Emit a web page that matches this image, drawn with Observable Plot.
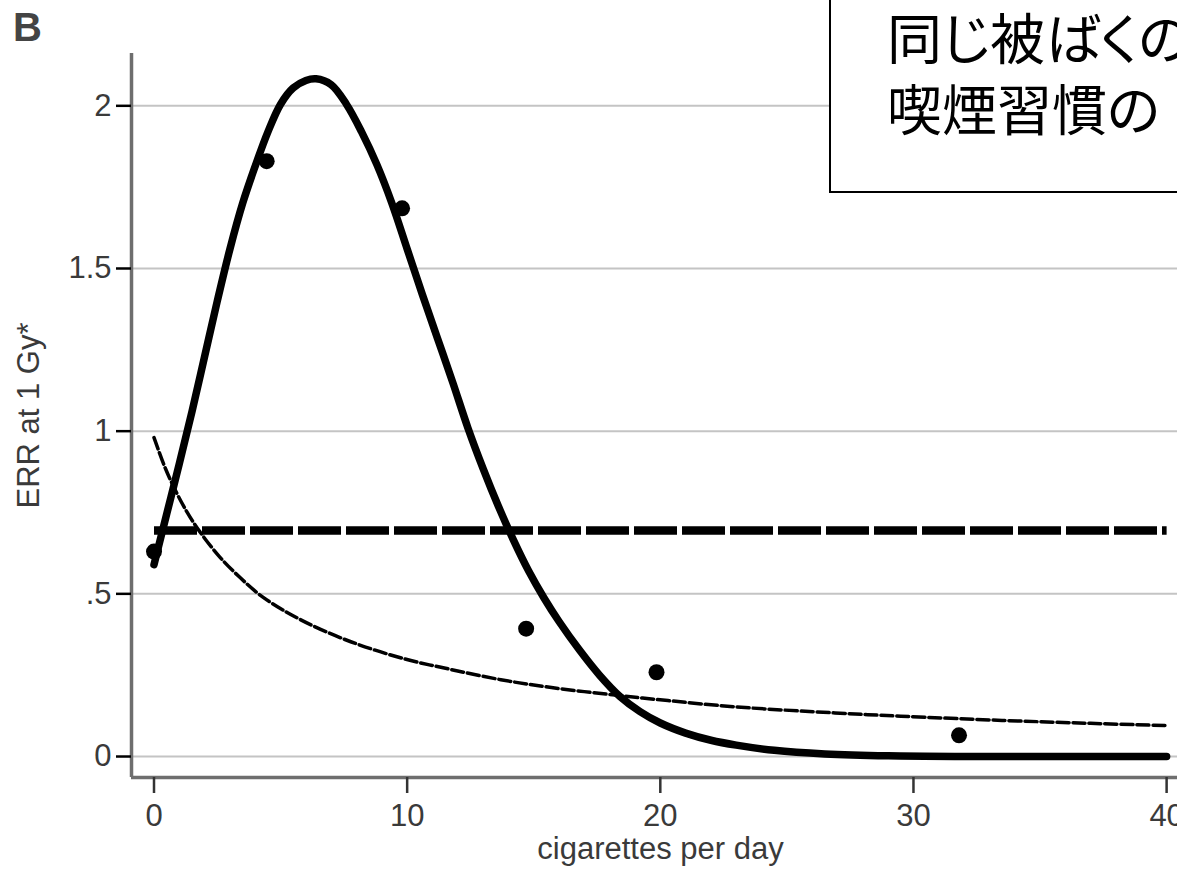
<!DOCTYPE html>
<html>
<head>
<meta charset="utf-8">
<script src="https://cdn.jsdelivr.net/npm/d3@7"></script>
<script src="https://cdn.jsdelivr.net/npm/@observablehq/plot@0.6"></script>
<style>
  html, body { margin: 0; padding: 0; overflow: hidden; background: #fff; }
  #wrap { position: relative; width: 1177px; height: 869px; overflow: hidden; }
  #note {
    position: absolute; left: 829px; top: -10px; width: 420px; height: 203px;
    box-sizing: border-box; border: 2px solid #000; background: #fff;
    padding: 8px 0 0 56px;
    font-family: "Noto Sans CJK JP", sans-serif; font-size: 55px; line-height: 71px;
    font-feature-settings: "palt"; white-space: nowrap; color: #000;
  }
</style>
</head>
<body>
<div id="wrap"></div>
<script>
// ---- data ----
const xTicks = [0, 10, 20, 30, 40];
const yTicks = [0, 0.5, 1, 1.5, 2];
const yTickLabels = ["0", ".5", "1", "1.5", "2"];

// observed points
const pointX = [0, 4.45, 9.8, 14.7, 19.85, 31.8];
const pointY = [0.63, 1.83, 1.685, 0.393, 0.259, 0.065];

// thick solid fitted curve
const solidX = [0, 0.5, 1.0, 1.5, 2.0, 2.5, 3.0, 3.5, 4.0, 4.5, 5.0, 5.5, 6.0, 6.4, 7.0, 7.6, 8.2, 8.8, 9.4, 10.0, 10.6, 11.2, 11.8, 12.4, 13.0, 13.6, 14.2, 14.8, 15.4, 16.0, 16.8, 17.6, 18.4, 19.2, 20.0, 21.0, 22.0, 23.0, 24.5, 26.5, 29.0, 32.0, 40];
const solidY = [0.59, 0.745, 0.90, 1.06, 1.23, 1.40, 1.56, 1.70, 1.815, 1.92, 2.005, 2.055, 2.078, 2.083, 2.065, 2.005, 1.92, 1.82, 1.70, 1.56, 1.42, 1.285, 1.15, 1.01, 0.885, 0.77, 0.665, 0.57, 0.488, 0.415, 0.328, 0.25, 0.185, 0.138, 0.103, 0.072, 0.05, 0.035, 0.019, 0.008, 0.002, 0.0, 0.0];

// thick dashed constant line
const flatX = [0, 40];
const flatY = [0.695, 0.695];

// thin dashed fitted curve
const thinX = [0, 0.4, 0.8, 1.3, 1.8, 2.6, 3.4, 4.3, 5.8, 7.8, 9.9, 11.7, 13.7, 15.7, 18.3, 20.3, 22.9, 26.9, 29.5, 33.5, 37, 40];
const thinY = [0.98, 0.895, 0.825, 0.752, 0.692, 0.613, 0.55, 0.49, 0.42, 0.352, 0.30, 0.268, 0.236, 0.212, 0.188, 0.172, 0.153, 0.134, 0.124, 0.111, 0.102, 0.095];

const xLabel = "cigarettes per day";
const yLabel = "ERR at 1 Gy*";
const panelLabel = "B";
const noteLines = ["同じ被ばくの", "喫煙習慣の"];

// ---- build tables ----
const zip = (xs, ys) => xs.map((x, i) => ({x, y: ys[i]}));
const points = zip(pointX, pointY);
const solid = zip(solidX, solidY);
const flat = zip(flatX, flatY);
const thin = zip(thinX, thinY);

const xDomain = [-0.889, 40.43];
const yDomain = [-0.0645, 2.1608];
const font = "'Liberation Sans', Arial, sans-serif";

const chart = Plot.plot({
  width: 1177,
  height: 869,
  marginLeft: 131,
  marginRight: 0,
  marginTop: 53,
  marginBottom: 92,
  style: {fontFamily: font, background: "#fff"},
  x: {domain: xDomain},
  y: {domain: yDomain},
  marks: [
    Plot.ruleY(yTicks, {stroke: "#c4c4c4", strokeWidth: 2}),
    Plot.ruleX([xDomain[0]], {stroke: "#6e6e6e", strokeWidth: 3.5}),
    Plot.ruleY([yDomain[0]], {stroke: "#6e6e6e", strokeWidth: 3.5}),
    Plot.axisY({ticks: yTicks, tickSize: 15, tickPadding: 5, strokeWidth: 2.5, stroke: "#000",
      fill: "#3a3a3a", fontSize: 31, label: null,
      tickFormat: d => yTickLabels[yTicks.indexOf(d)]}),
    Plot.axisX({ticks: xTicks, tickSize: 16, tickPadding: 10, strokeWidth: 2.5, stroke: "#333",
      fill: "#3a3a3a", fontSize: 31, label: null, tickFormat: d => String(d)}),
    Plot.text([xLabel], {text: d => d, frameAnchor: "bottom", dx: 6, dy: 72,
      textAnchor: "middle", lineAnchor: "middle", fontSize: 31, fill: "#3a3a3a"}),
    Plot.text([yLabel], {text: d => d, frameAnchor: "left", dx: -102, rotate: -90,
      textAnchor: "middle", lineAnchor: "middle", fontSize: 31, fill: "#3a3a3a"}),
    Plot.text([panelLabel], {text: d => d, frameAnchor: "top-left", dx: -104, dy: -25,
      textAnchor: "middle", lineAnchor: "middle", fontSize: 40, fontWeight: "bold", fill: "#444"}),
    Plot.line(thin, {x: "x", y: "y", stroke: "#000", strokeWidth: 3.5, strokeDasharray: "12,4",
      curve: "catmull-rom"}),
    Plot.line(flat, {x: "x", y: "y", stroke: "#000", strokeWidth: 8.5, strokeDasharray: "43,5",
      strokeLinecap: "butt"}),
    Plot.line(solid, {x: "x", y: "y", stroke: "#000", strokeWidth: 7.5, curve: "catmull-rom"}),
    Plot.dot(points, {x: "x", y: "y", r: 8, fill: "#000"})
  ]
});

const wrap = document.getElementById("wrap");
wrap.appendChild(chart);
const note = document.createElement("div");
note.id = "note";
noteLines.forEach((t, i) => {
  if (i) note.appendChild(document.createElement("br"));
  note.appendChild(document.createTextNode(t));
});
wrap.appendChild(note);
</script>
</body>
</html>
